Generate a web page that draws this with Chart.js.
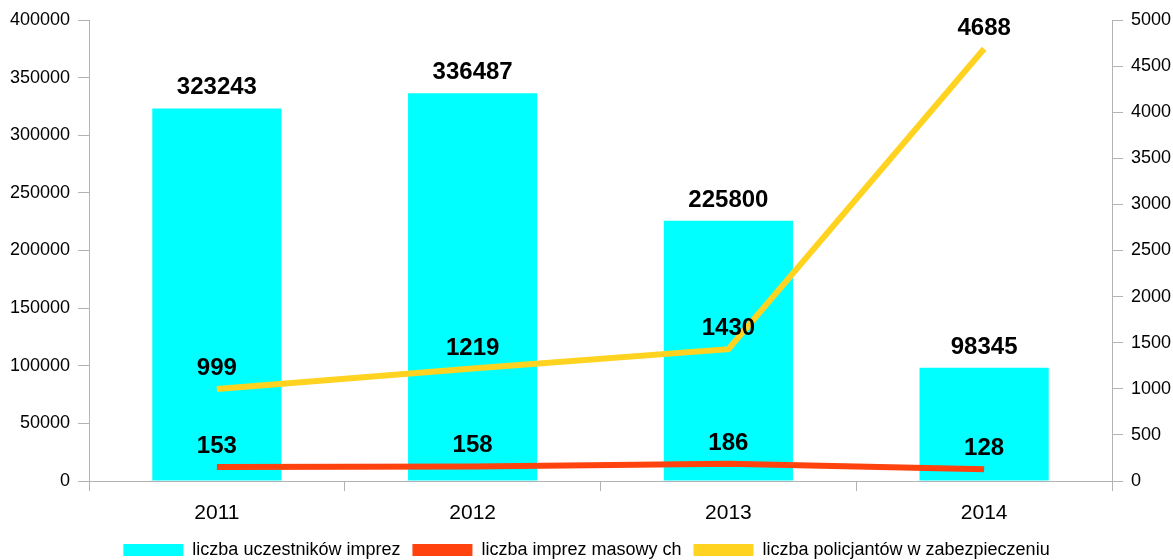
<!DOCTYPE html>
<html>
<head>
<meta charset="utf-8">
<script src="https://cdn.jsdelivr.net/npm/chart.js@4.4.1/dist/chart.umd.min.js"></script>
<style>
html,body{margin:0;padding:0;background:#fff;}
#wrap{width:1173px;height:560px;position:relative;}
</style>
</head>
<body>
<div id="wrap"><canvas id="c" width="1173" height="560"></canvas></div>
<script>
const categories = ['2011', '2012', '2013', '2014'];
const participants = [323243, 336487, 225800, 98345];
const massEvents = [153, 158, 186, 128];
const policemen = [999, 1219, 1430, 4688];
const seriesNames = ['liczba uczestników imprez', 'liczba imprez masowy ch', 'liczba policjantów w zabezpieczeniu'];
const seriesColors = ['#00ffff', '#ff420e', '#ffd320'];
const leftTicks = {min: 0, max: 400000, step: 50000};
const rightTicks = {min: 0, max: 5000, step: 500};

const FONT = "'Liberation Sans', Arial, sans-serif";
const AXIS = '#b3b3b3';

const labelPlugin = {
  id: 'valueLabels',
  afterDatasetsDraw(chart) {
    const ctx = chart.ctx;
    ctx.save();
    ctx.font = "bold 24px " + FONT;
    ctx.fillStyle = '#000';
    ctx.textAlign = 'center';
    ctx.textBaseline = 'alphabetic';
    chart.data.datasets.forEach((ds, i) => {
      const meta = chart.getDatasetMeta(i);
      meta.data.forEach((el, j) => {
        ctx.fillText(String(ds.data[j]), el.x, el.y - 14);
      });
    });
    ctx.restore();
  }
};

const origGen = Chart.defaults.plugins.legend.labels.generateLabels;

new Chart(document.getElementById('c'), {
  type: 'bar',
  data: {
    labels: categories,
    datasets: [
      {type: 'bar', label: seriesNames[0], data: participants, backgroundColor: seriesColors[0], borderWidth: 0,
       yAxisID: 'y', barPercentage: 0.505, categoryPercentage: 1.0, order: 2},
      {type: 'line', label: seriesNames[1], data: massEvents, borderColor: seriesColors[1], backgroundColor: seriesColors[1],
       borderWidth: 6, pointRadius: 0, tension: 0, yAxisID: 'y1', order: 1},
      {type: 'line', label: seriesNames[2], data: policemen, borderColor: seriesColors[2], backgroundColor: seriesColors[2],
       borderWidth: 6, pointRadius: 0, tension: 0, yAxisID: 'y1', order: 0}
    ]
  },
  options: {
    responsive: false,
    animation: false,
    devicePixelRatio: 1,
    layout: {padding: {top: 20, left: 0, right: 0, bottom: -9}},
    plugins: {
      tooltip: {enabled: false},
      legend: {
        position: 'bottom',
        labels: {
          font: {family: FONT, size: 18},
          color: '#000',
          boxWidth: 60,
          boxHeight: 12,
          padding: 12,
          generateLabels: (c) => origGen(c).map(l => Object.assign({}, l, {lineWidth: 0, strokeStyle: 'rgba(0,0,0,0)', fillStyle: seriesColors[l.datasetIndex]})),
          sort: (a, b) => a.datasetIndex - b.datasetIndex
        }
      }
    },
    scales: {
      x: {
        offset: true,
        grid: {display: true, drawOnChartArea: false, drawTicks: true, tickLength: 10, color: AXIS, offset: true},
        border: {display: true, color: AXIS},
        ticks: {font: {family: FONT, size: 21}, color: '#000', padding: 10},
        afterFit: (s) => { s.height = 48; }
      },
      y: {
        position: 'left',
        min: leftTicks.min, max: leftTicks.max,
        grid: {drawOnChartArea: false, drawTicks: true, tickLength: 11, color: AXIS},
        border: {display: true, color: AXIS},
        ticks: {stepSize: leftTicks.step, font: {family: FONT, size: 18}, color: '#000', padding: 8, callback: v => String(v)},
        afterFit: (s) => { s.width = 89; }
      },
      y1: {
        position: 'right',
        min: rightTicks.min, max: rightTicks.max,
        grid: {drawOnChartArea: false, drawTicks: true, tickLength: 11, color: AXIS},
        border: {display: true, color: AXIS},
        ticks: {stepSize: rightTicks.step, font: {family: FONT, size: 18}, color: '#000', padding: 8, callback: v => String(v)},
        afterFit: (s) => { s.width = 61; }
      }
    }
  },
  plugins: [labelPlugin]
});
</script>
</body>
</html>
